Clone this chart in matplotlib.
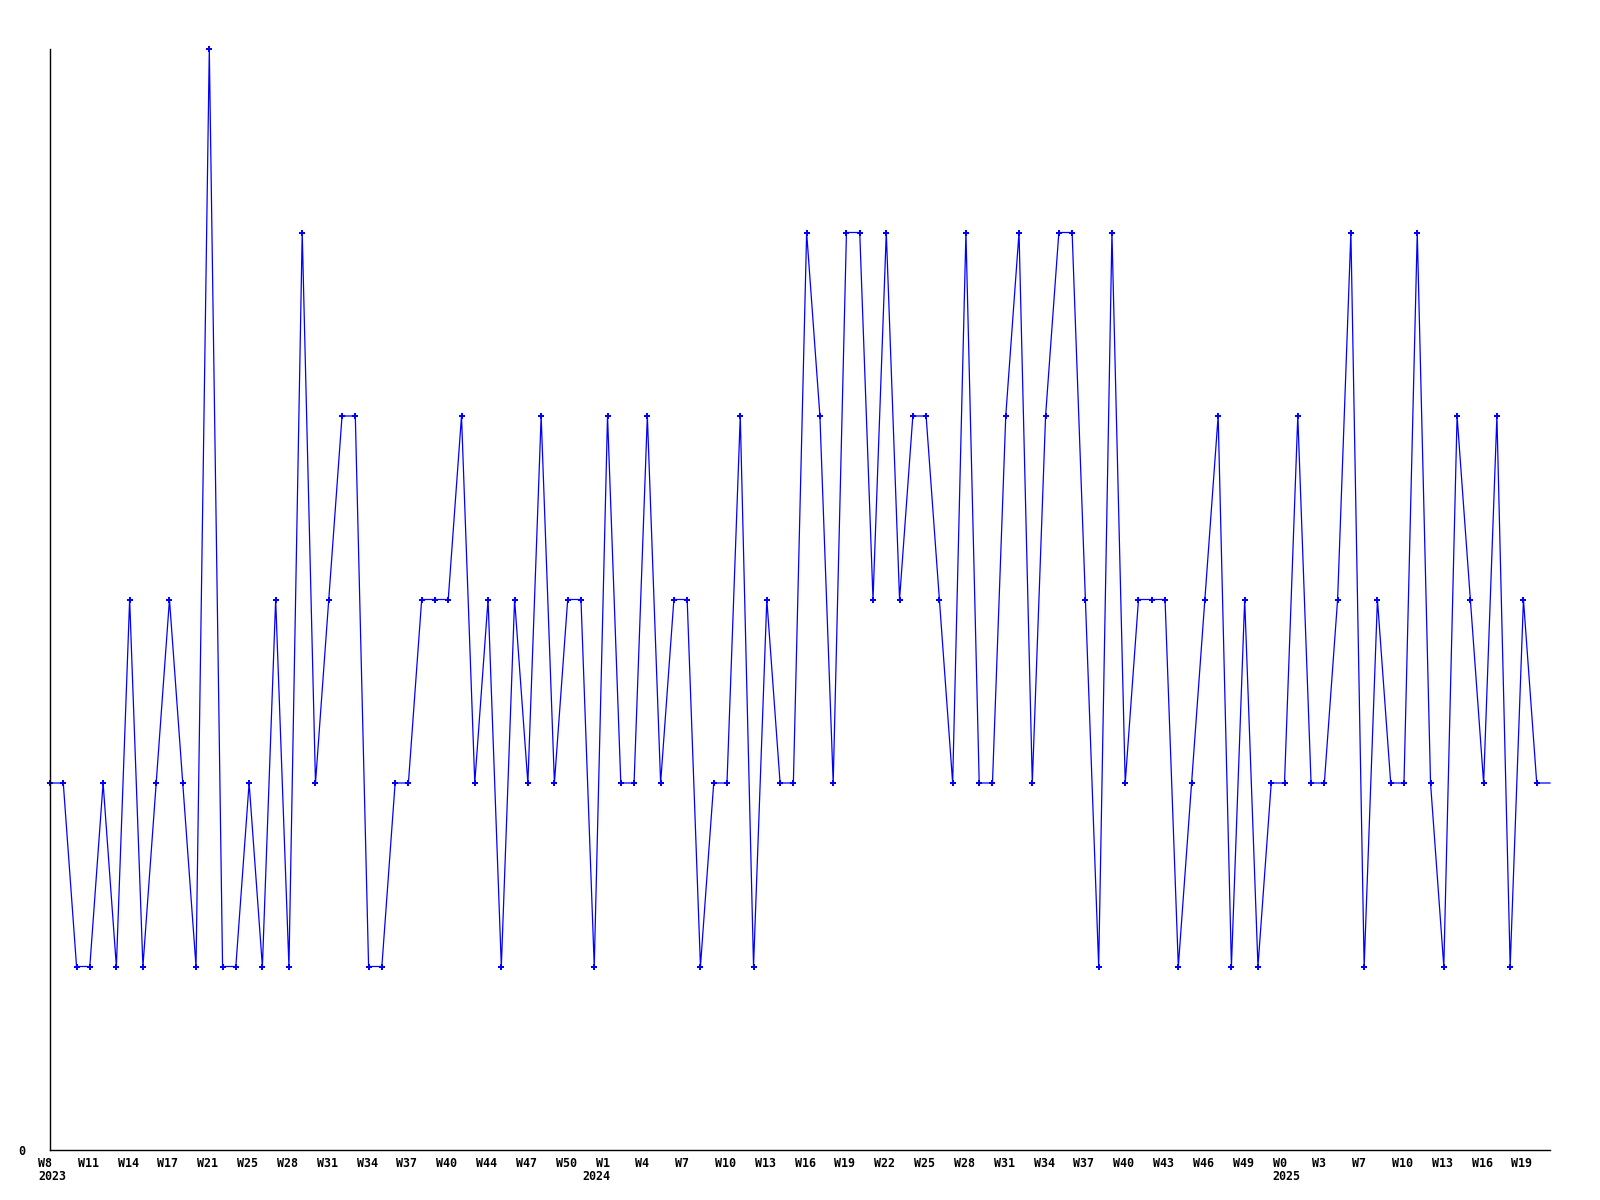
import matplotlib
matplotlib.use("Agg")
import matplotlib.pyplot as plt
from matplotlib.transforms import ScaledTranslation, blended_transform_factory

values = [2, 2, 1, 1, 2, 1, 3, 1, 2, 3, 2, 1, 6, 1, 1, 2, 1, 3, 1, 5,
          2, 3, 4, 4, 1, 1, 2, 2, 3, 3, 3, 4, 2, 3, 1, 3, 2, 4, 2, 3,
          3, 1, 4, 2, 2, 4, 2, 3, 3, 1, 2, 2, 4, 1, 3, 2, 2, 5, 4, 2,
          5, 5, 3, 5, 3, 4, 4, 3, 2, 5, 2, 2, 4, 5, 2, 4, 5, 5, 3, 1,
          5, 2, 3, 3, 3, 1, 2, 3, 4, 1, 3, 1, 2, 2, 4, 2, 2, 3, 5, 1,
          3, 2, 2, 5, 2, 1, 4, 3, 2, 4, 1, 3, 2, 2]

week_labels = ["W8", "W11", "W14", "W17", "W21", "W25", "W28", "W31", "W34", "W37",
               "W40", "W44", "W47", "W50",
               "W1", "W4", "W7", "W10", "W13", "W16", "W19", "W22", "W25", "W28",
               "W31", "W34", "W37", "W40", "W43", "W46", "W49",
               "W0", "W3", "W7", "W10", "W13", "W16", "W19"]
year_labels = ["2023", "2024", "2025"]
year_positions = [0, 41, 93]

fig = plt.figure(figsize=(16, 12), dpi=100)
ax = fig.add_axes([50 / 1600, 50 / 1200, 1500 / 1600, 1101 / 1200])

x = list(range(len(values)))
ax.plot(x, values, color="#0000ff", linewidth=0.9, antialiased=True,
        marker="P", markersize=4.5, markeredgewidth=0,
        markevery=list(range(len(values) - 1)), clip_on=False)

ax.set_xlim(0, len(values) - 1)
ax.set_ylim(0, 6)

for s in ["top", "right"]:
    ax.spines[s].set_visible(False)
for s in ["left", "bottom"]:
    ax.spines[s].set_linewidth(1.0)
    ax.spines[s].set_color("black")

font = dict(family="DejaVu Sans Mono", weight="bold", size=8.4)

ax.set_yticks([0])
ax.set_yticklabels(["0"], **font)
ax.tick_params(axis="y", length=0, pad=18)

ticks = [3 * i for i in range(len(week_labels))]
ax.set_xticks(ticks)
ax.set_xticklabels(week_labels, **font)
ax.tick_params(axis="x", which="both", length=0, pad=5)
off = ScaledTranslation(-12 / 100, 0, fig.dpi_scale_trans)
for lab in ax.get_xticklabels():
    lab.set_horizontalalignment("left")
    lab.set_transform(lab.get_transform() + off)

trans = blended_transform_factory(ax.transData, ax.transAxes) + \
    ScaledTranslation(-12 / 100, -27 / 100, fig.dpi_scale_trans)
for pos, yl in zip(year_positions, year_labels):
    ax.text(pos, 0, yl, transform=trans, ha="left", va="center",
            clip_on=False, **font)

fig.savefig("out.png", dpi=100, facecolor="white")
